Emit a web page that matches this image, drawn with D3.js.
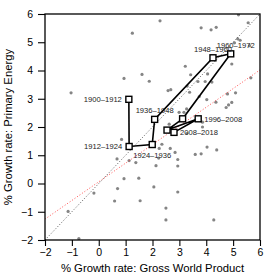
<!DOCTYPE html>
<html>
<head>
<meta charset="utf-8">
<script src="https://cdn.jsdelivr.net/npm/d3@7"></script>
<style>
  body { margin: 0; background: #fff; }
  svg { font-family: "Liberation Sans", Arial, sans-serif; }
</style>
</head>
<body>
<script>
// yearly points: growth of gross world product (x) vs primary energy (y)
var yearGwp = [2.28, 3.81, 4.18, 4.37, 5.2, 5.56, 5.17, 5.26, 5.05, 5.61,
  4.95, 4.05, 3.22, 3.42, 2.58, 2.68, 3.29, 3.69, 3.96, 4.21,
  3.38, 3.74, 4.36, 4.02, 4.83, 4.95, 5.09, 4.79, 5.66, 4.74,
  2.99, 3.17, 3.27, 3.86, 1.25, 0.94, 1.61, 1.88, -1.03, 0.85,
  0.68, 1.13, 1.38, 0.94, 1.49, 0.70, -0.18, 2.05, 0.59, 1.54,
  -1.14, -0.74, 3.28, 2.35, 2.66, 2.84, 2.25, 2.23, 2.94, 2.94,
  2.13, 3.59, 3.81, 4.03, 4.39, 2.94, 2.50, 2.50, 4.28, 3.86, 2.62];
var yearEnergy = [5.76, 5.51, 5.44, 5.53, 5.97, 5.69, 5.12, 5.07, 4.98, 4.88,
  4.23, 3.88, 4.15, 3.85, 3.29, 3.32, 3.45, 3.61, 3.61, 3.59,
  3.23, 3.08, 2.88, 2.97, 2.78, 2.87, 3.21, 3.17, 3.74, 2.69,
  2.52, 2.52, 2.64, 2.17, 5.32, 3.72, 3.86, 3.62, 3.21, 1.56,
  0.87, 0.81, 0.74, 0.17, 0.19, -0.18, -0.34, -0.12, -0.62, -0.61,
  -0.99, -1.95, 1.77, 1.39, 1.24, 1.10, 1.24, 0.90, 0.85, 0.62,
  0.63, 1.03, 1.05, 1.29, 1.19, -0.30, -0.87, -1.29, -1.29, 2.00, 2.10];

// period averages
var periods = ["1900\u20131912", "1912\u20131924", "1924\u20131936", "1936\u20131948", "1948\u20131960",
  "1960\u20131972", "1972\u20131984", "1984\u20131996", "1996\u20132008", "2008\u20132018"];
var periodGwp = [1.12, 1.13, 1.99, 2.08, 4.25, 4.91, 3.12, 2.54, 3.70, 2.80];
var periodEnergy = [2.98, 1.31, 1.38, 2.27, 4.45, 4.59, 2.29, 1.89, 2.29, 1.81];
var labelSide = ["left", "left", "below", "above", "above", "above", "", "", "right", "right"];

// fitted line (red)
var fitIntercept = 0.06, fitSlope = 0.66;

var xTicks = [-2, -1, 0, 1, 2, 3, 4, 5, 6];
var yTicks = [-2, -1, 0, 1, 2, 3, 4, 5, 6];

var width = 274, height = 274;
var plotLeft = 45, plotRight = 260, plotTop = 14, plotBottom = 240;

var svg = d3.select("body").append("svg")
    .attr("width", width)
    .attr("height", height);

var x = d3.scaleLinear().domain([-2, 6]).range([plotLeft, plotRight]);
var y = d3.scaleLinear().domain([-2, 6]).range([plotBottom, plotTop]);

svg.append("clipPath").attr("id", "plot")
  .append("rect")
    .attr("x", plotLeft).attr("y", plotTop)
    .attr("width", plotRight - plotLeft).attr("height", plotBottom - plotTop);

var plot = svg.append("g").attr("clip-path", "url(#plot)");

//yearly dots
plot.selectAll(".dot")
    .data(d3.range(yearGwp.length))
    .enter()
    .append("circle")
    .attr("class", "dot")
    .attr("cx", function(i){ return x(yearGwp[i]); })
    .attr("cy", function(i){ return y(yearEnergy[i]); })
    .attr("r", 1.6)
    .attr("fill", "#858585");

//identity line
plot.append("line")
    .attr("x1", x(-2)).attr("y1", y(-2))
    .attr("x2", x(6)).attr("y2", y(6))
    .attr("stroke", "#444")
    .attr("stroke-width", 0.9)
    .attr("stroke-dasharray", "1,2");

//fit line
plot.append("line")
    .attr("x1", x(-2)).attr("y1", y(fitIntercept + fitSlope * -2))
    .attr("x2", x(6)).attr("y2", y(fitIntercept + fitSlope * 6))
    .attr("stroke", "#ff4040")
    .attr("stroke-width", 0.9)
    .attr("stroke-dasharray", "1,2");

//path through periods
var line = d3.line()
    .x(function(i){ return x(periodGwp[i]); })
    .y(function(i){ return y(periodEnergy[i]); });

svg.append("path")
    .datum(d3.range(periods.length))
    .attr("d", line)
    .attr("fill", "none")
    .attr("stroke", "#000")
    .attr("stroke-width", 1.6);

svg.selectAll(".sq")
    .data(d3.range(periods.length))
    .enter()
    .append("rect")
    .attr("class", "sq")
    .attr("x", function(i){ return x(periodGwp[i]) - 3; })
    .attr("y", function(i){ return y(periodEnergy[i]) - 3; })
    .attr("width", 6)
    .attr("height", 6)
    .attr("fill", "#fff")
    .attr("stroke", "#000")
    .attr("stroke-width", 1.4);

//period labels
svg.selectAll(".plab")
    .data(d3.range(periods.length).filter(function(i){ return labelSide[i] != ""; }))
    .enter()
    .append("text")
    .attr("class", "plab")
    .attr("x", function(i){
        var px = x(periodGwp[i]);
        if (labelSide[i] == "left") return px - 7;
        if (labelSide[i] == "right") return px + 6;
        if (i == 5) return px + 5;
        return px;
    })
    .attr("y", function(i){
        var py = y(periodEnergy[i]);
        if (labelSide[i] == "above") return py - 6;
        if (labelSide[i] == "below") return py + 13;
        return py + 2.8;
    })
    .attr("text-anchor", function(i){
        if (labelSide[i] == "left") return "end";
        if (labelSide[i] == "right") return "start";
        return "middle";
    })
    .attr("font-size", "7.6px")
    .attr("fill", "#222")
    .text(function(i){ return periods[i]; });

//frame
svg.append("rect")
    .attr("x", plotLeft).attr("y", plotTop)
    .attr("width", plotRight - plotLeft).attr("height", plotBottom - plotTop)
    .attr("fill", "none")
    .attr("stroke", "#000")
    .attr("stroke-width", 1.3);

//axes
var fmt = function(d){ return d < 0 ? "\u2212" + Math.abs(d) : d; };
var xAxis = svg.append("g")
    .attr("transform", "translate(0," + plotBottom + ")")
    .call(d3.axisBottom(x).tickValues(xTicks).tickSize(6).tickPadding(3).tickFormat(fmt));
var yAxis = svg.append("g")
    .attr("transform", "translate(" + plotLeft + ",0)")
    .call(d3.axisLeft(y).tickValues(yTicks).tickSize(7).tickPadding(5).tickFormat(fmt));

[xAxis, yAxis].forEach(function(a){
    a.select(".domain").remove();
    a.selectAll("line").attr("stroke", "#000").attr("stroke-width", 1.1);
    a.selectAll("text").attr("font-size", "10.5px").attr("fill", "#000")
        .attr("font-family", "Liberation Sans, Arial, sans-serif");
});

//axis titles
svg.append("text")
    .attr("x", (plotLeft + plotRight) / 2)
    .attr("y", 272)
    .attr("text-anchor", "middle")
    .attr("font-size", "11.3px")
    .text("% Growth rate: Gross World Product");

svg.append("text")
    .attr("transform", "translate(12," + (plotTop + plotBottom) / 2 + ") rotate(-90)")
    .attr("text-anchor", "middle")
    .attr("font-size", "11.3px")
    .text("% Growth rate: Primary Energy");
</script>
</body>
</html>
